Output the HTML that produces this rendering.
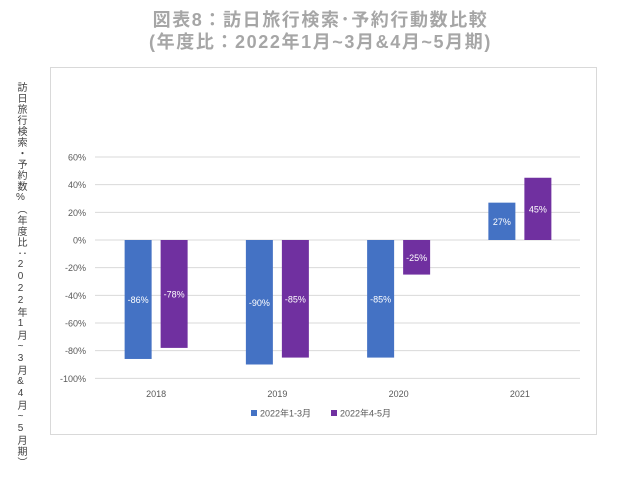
<!DOCTYPE html>
<html><head><meta charset="utf-8"><style>
body{margin:0;background:#fff;width:641px;height:493px;overflow:hidden;font-family:"Liberation Sans","Noto Sans CJK JP",sans-serif;}
#title{position:absolute;left:0;width:641px;top:9px;text-align:center;color:#a6a6a6;font-weight:bold;font-size:18px;line-height:22px;letter-spacing:1.6px;}
#ytitle{position:absolute;left:13px;top:82px;writing-mode:vertical-rl;text-orientation:upright;font-size:10px;letter-spacing:1.0px;color:#404040;}
#frame{position:absolute;left:50px;top:67px;width:545px;height:366px;border:1px solid #d9d9d9;}
</style></head><body>
<div id="title">図表8：訪日旅行検索･予約行動数比較<br>(年度比：2022年1月~3月&amp;4月~5月期)</div>
<div id="ytitle">訪日旅行検索・予約数%（年度比：2022年1月~3月&amp;4月~5月期）</div>
<div id="frame"></div>
<svg id="chart" width="641" height="493" style="position:absolute;left:0;top:0"></svg>
<script>
const categories=["2018","2019","2020","2021"];
const series1=[-86,-90,-85,27];
const series2=[-78,-85,-25,45];
const seriesNames=["2022年1-3月","2022年4-5月"];
const ticks=[60,40,20,0,-20,-40,-60,-80,-100];
const colors=["#4472c4","#7030a0"];
const svg=document.getElementById('chart');
const NS='http://www.w3.org/2000/svg';
const y=v=>240-(v*83/60);
const x0=95,x1=580,band=(x1-x0)/categories.length;
const xc=i=>x0+band*(i+0.5)+0.5;
function mk(t,a){const e=document.createElementNS(NS,t);for(const k in a)e.setAttribute(k,a[k]);svg.appendChild(e);return e;}
ticks.forEach(t=>{
 const l=mk('line',{x1:x0,x2:x1,y1:y(t),y2:y(t),stroke:'#d9d9d9','stroke-width':1});
 
 
 const tx=mk('text',{x:86,y:y(t)+3.5,'text-anchor':'end','font-size':9,fill:'#595959'});
 tx.textContent=t+'%';
 
 
});
const bw=27,gap=9;
[series1,series2].forEach((s,si)=>{
 s.forEach((v,i)=>{
  const bx=si===0?xc(i)-gap/2-bw:xc(i)+gap/2;
  const r=mk('rect',{x:bx,y:Math.min(y(v),y(0)),width:bw,height:Math.abs(y(v)-y(0)),fill:colors[si]});
  
  
  const t=mk('text',{x:bx+bw/2,y:(y(v)+y(0))/2+3.5,'text-anchor':'middle','font-size':9,fill:'#fff'});
  t.textContent=v+'%';
  
  
 });
});
categories.forEach((c,i)=>{
 const t=mk('text',{x:xc(i),y:397,'text-anchor':'middle','font-size':9,fill:'#595959'});
 t.textContent=c;
 
 
});
const lx=[251,331];
seriesNames.forEach((n,i)=>{
 const r=mk('rect',{x:lx[i],y:410,width:6,height:6,fill:colors[i]});
 
 
 const t=mk('text',{x:lx[i]+9,y:416.5,'font-size':9,fill:'#595959'});
 t.textContent=n;
 
 
});
</script>
</body></html>
